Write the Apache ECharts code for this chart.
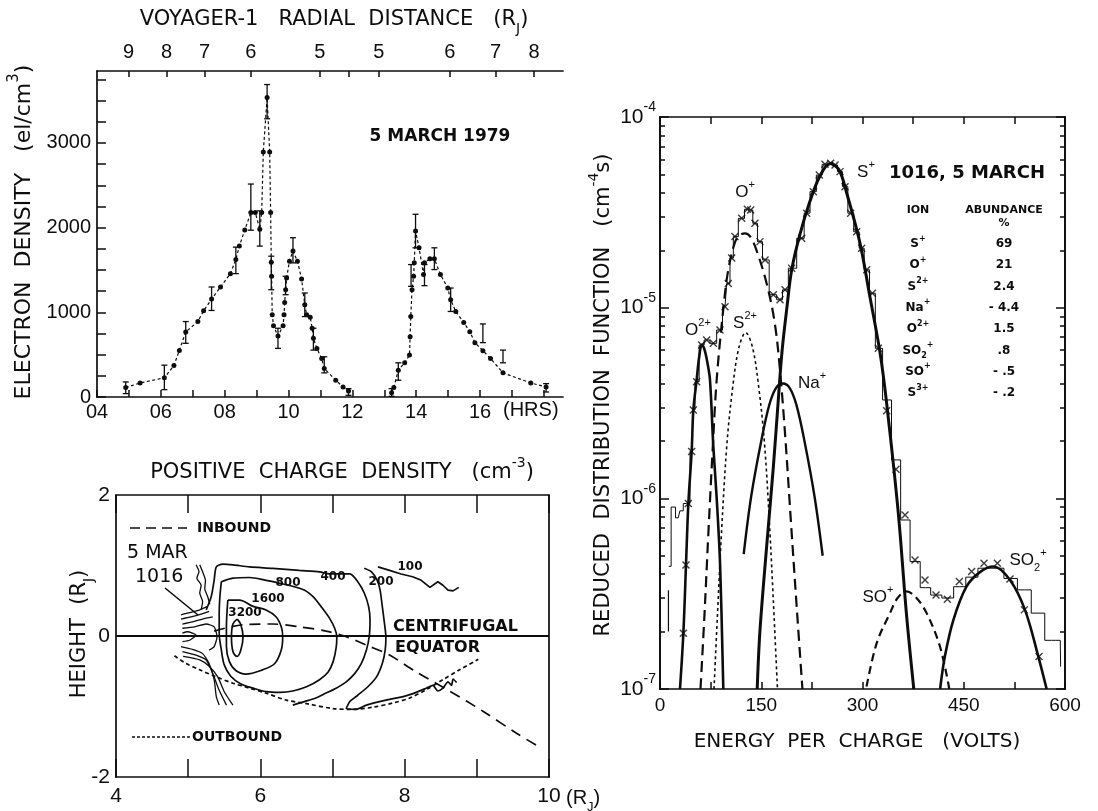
<!DOCTYPE html>
<html>
<head>
<meta charset="utf-8">
<script src="https://cdn.jsdelivr.net/npm/echarts@6/dist/echarts.min.js"></script>
<style>
  html, body { margin: 0; padding: 0; background: #fff; }
  #main { width: 1098px; height: 811px; }
</style>
</head>
<body>
<div id="main"></div>
<script>
// ---- top left: electron density along the Voyager-1 path ----
var densHoursIn = [4.90, 5.35, 6.11, 6.41, 6.58, 6.78, 7.16, 7.34, 7.59, 7.87, 8.18, 8.35, 8.46, 8.63, 8.82, 8.96, 9.10, 9.16, 9.21, 9.33, 9.41, 9.44, 9.46, 9.47, 9.49, 9.53, 9.67, 9.83, 9.86, 9.88, 9.91, 9.94, 10.03, 10.14, 10.28, 10.41, 10.51, 10.57, 10.68, 10.74, 10.78, 10.89, 11.04, 11.12, 11.48, 11.71, 11.88];
var densIn = [111, 166, 226, 372, 550, 768, 891, 1018, 1156, 1299, 1457, 1624, 1782, 1972, 2178, 2178, 1980, 2178, 2894, 3536, 2894, 2178, 1592, 1426, 970, 840, 721, 840, 970, 1117, 1267, 1406, 1604, 1723, 1604, 1394, 1089, 970, 943, 812, 693, 574, 455, 337, 198, 119, 71];
var densHoursOut = [13.23, 13.30, 13.44, 13.64, 13.79, 13.81, 13.83, 13.87, 13.92, 13.94, 13.98, 14.09, 14.23, 14.26, 14.43, 14.57, 14.76, 14.99, 15.08, 15.24, 15.49, 15.68, 15.84, 16.09, 16.33, 16.72, 17.59, 18.07];
var densOut = [51, 111, 317, 404, 495, 713, 950, 1267, 1426, 1584, 1960, 1762, 1446, 1584, 1632, 1632, 1446, 1287, 1149, 1010, 879, 772, 642, 547, 455, 285, 166, 119];
var errHours = [4.90, 6.11, 6.78, 7.59, 8.35, 8.82, 9.10, 9.33, 9.46, 9.67, 9.91, 10.14, 10.51, 10.78, 11.12, 11.88, 13.23, 13.44, 13.84, 13.98, 14.26, 14.57, 15.08, 16.09, 16.72, 18.07];
var errLow = [40, 87, 634, 1022, 1457, 1970, 1782, 3286, 1267, 574, 1208, 1584, 950, 554, 285, 20, 8, 198, 1307, 1762, 1315, 1505, 1010, 642, 404, 59];
var errHigh = [178, 376, 891, 1299, 1770, 2515, 2198, 3690, 1663, 812, 1426, 1881, 1228, 812, 475, 99, 99, 404, 1564, 2158, 1564, 1762, 1287, 863, 554, 158];
var radTickHours = [4.99, 6.18, 7.37, 8.82, 10.98, 11.89, 12.83, 15.05, 16.49, 17.69];
var radTickLabels = ['9', '8', '7', '6', '5', '', '5', '6', '7', '8'];

// ---- bottom left: positive charge density contours (R_J, R_J) ----
var c3200 = [[5.68,0.24],[5.73,0.16],[5.76,-0.01],[5.73,-0.20],[5.68,-0.29],[5.62,-0.22],[5.60,-0.01],[5.62,0.17],[5.68,0.24]];
var c1600 = [[5.55,0.51],[5.71,0.51],[5.90,0.42],[6.08,0.37],[6.22,0.27],[6.29,0.13],[6.31,-0.01],[6.29,-0.20],[6.20,-0.39],[6.03,-0.48],[5.80,-0.54],[5.66,-0.49],[5.57,-0.36],[5.53,-0.15],[5.53,0.13],[5.54,0.37],[5.55,0.51]];
var c800 = [[5.46,0.77],[5.62,0.82],[5.85,0.83],[6.08,0.79],[6.22,0.76],[6.59,0.66],[6.73,0.56],[6.84,0.42],[6.96,0.25],[7.03,0.11],[7.06,-0.01],[7.05,-0.17],[7.01,-0.36],[6.94,-0.51],[6.82,-0.62],[6.64,-0.72],[6.45,-0.78],[6.27,-0.80],[6.08,-0.79],[5.90,-0.74],[5.73,-0.68],[5.59,-0.57],[5.50,-0.41],[5.46,-0.20],[5.43,0.04],[5.43,0.32],[5.44,0.56],[5.46,0.77]];
var c400 = [[5.25,0.37],[5.32,0.56],[5.36,0.79],[5.39,0.98],[5.48,1.02],[5.62,1.01],[5.85,0.98],[6.17,0.96],[6.54,0.93],[6.82,0.91],[6.96,0.88],[7.24,0.88],[7.35,0.77],[7.44,0.61],[7.50,0.42],[7.52,0.23],[7.51,0],[7.47,-0.20],[7.40,-0.39],[7.31,-0.53],[7.19,-0.65],[7.05,-0.74],[6.91,-0.81],[6.77,-0.88],[6.61,-0.93],[6.45,-0.98]];
var c200 = [[7.44,0.96],[7.54,0.91],[7.62,0.79],[7.66,0.65],[7.69,0.42],[7.72,0.18],[7.74,-0.01],[7.73,-0.20],[7.69,-0.39],[7.61,-0.58],[7.49,-0.72],[7.35,-0.84],[7.24,-0.93],[7.19,-1.03],[7.33,-1.04],[7.47,-0.98],[7.74,-0.91],[7.98,-0.86],[8.16,-0.80],[8.30,-0.74],[8.39,-0.70],[8.46,-0.78],[8.53,-0.74],[8.60,-0.65],[8.65,-0.70],[8.67,-0.61],[8.72,-0.66]];
var c100 = [[7.63,0.98],[7.79,0.93],[7.95,0.88],[8.11,0.84],[8.23,0.79],[8.35,0.69],[8.46,0.77],[8.53,0.72],[8.60,0.65],[8.67,0.64],[8.75,0.69]];
var innerBits = [
  [[5.11,1.01],[5.15,0.91],[5.12,0.82],[5.18,0.72],[5.16,0.61],[5.20,0.49],[5.18,0.37]],
  [[5.16,1.01],[5.20,0.91],[5.24,0.79],[5.23,0.67],[5.27,0.56],[5.30,0.45]],
  [[4.90,0.30],[5.02,0.33],[5.16,0.37],[5.27,0.42]],
  [[4.90,0.24],[5.04,0.27],[5.18,0.31],[5.29,0.35]],
  [[4.92,0.17],[5.06,0.20],[5.20,0.24],[5.34,0.27]],
  [[4.92,0.11],[5.09,0.13],[5.25,0.17],[5.36,0.13],[5.40,-0.01],[5.36,-0.15],[5.29,-0.20]],
  [[4.92,0.04],[4.99,0.06],[5.11,0.01],[5.02,-0.06],[4.92,-0.08]],
  [[4.90,-0.15],[5.06,-0.19],[5.20,-0.25],[5.29,-0.39],[5.36,-0.62],[5.39,-0.86],[5.43,-0.98]],
  [[4.92,-0.22],[5.11,-0.27],[5.25,-0.34],[5.34,-0.53],[5.43,-0.77],[5.53,-0.98]],
  [[4.93,-0.29],[5.16,-0.34],[5.29,-0.43],[5.41,-0.58],[5.50,-0.79],[5.62,-0.98]]
];
var equatorLine = [[4, 0], [10, 0]];
var inboundPath = [[5.36,0.07],[5.76,0.16],[6.17,0.17],[6.54,0.13],[6.91,0.07],[7.19,-0.01],[7.47,-0.13],[7.79,-0.27],[8.16,-0.51],[8.62,-0.78],[9.09,-1.07],[9.55,-1.38],[9.86,-1.57]];
var outboundPath = [[4.81,-0.28],[4.97,-0.39],[5.16,-0.48],[5.39,-0.58],[5.62,-0.67],[5.85,-0.74],[6.08,-0.81],[6.36,-0.91],[6.64,-0.96],[7.01,-1.03],[7.28,-1.04],[7.56,-1.01],[7.84,-0.95],[8.07,-0.88],[8.30,-0.76],[8.53,-0.62],[8.76,-0.48],[9.02,-0.33]];

// ---- right: reduced distribution function vs energy per charge ----
var histEnergy = [13, 14, 19, 27, 32, 37, 42, 46.9, 49.4, 54.3, 61.7, 69.1, 79, 88.9, 96.3, 101.2, 106.2, 111.1, 121, 129.4, 134.3, 140.7, 148.1, 155.6, 167.9, 177.8, 185.2, 195.1, 209.9, 217.3, 227.2, 236, 244.4, 252.8, 259.3, 266.7, 274.1, 282.5, 291.4, 298.8, 306.2, 314.6, 323.5, 336, 350, 363, 378, 393, 409, 426, 444, 462, 480, 500, 519, 540, 560, 580, 593, 594];
var histValue = [4.4e-7, 4.4e-7, 9.0e-7, 7.9e-7, 8.6e-7, 9.4e-7, 9.4e-7, 1.76e-6, 2.91e-6, 4.09e-6, 6.37e-6, 6.77e-6, 6.5e-6, 7.64e-6, 1.01e-5, 1.34e-5, 1.82e-5, 2.36e-5, 2.94e-5, 3.28e-5, 3.25e-5, 2.77e-5, 2.22e-5, 1.78e-5, 1.17e-5, 1.10e-5, 1.24e-5, 1.61e-5, 2.31e-5, 3.13e-5, 4.06e-5, 4.96e-5, 5.65e-5, 5.72e-5, 5.6e-5, 5.17e-5, 4.31e-5, 3.13e-5, 2.5e-5, 2.05e-5, 1.58e-5, 1.19e-5, 6.12e-6, 3.28e-6, 1.59e-6, 7.7e-7, 4.66e-7, 3.4e-7, 3.11e-7, 3.0e-7, 3.44e-7, 3.86e-7, 4.3e-7, 4.3e-7, 3.8e-7, 3.31e-7, 2.5e-7, 1.8e-7, 1.8e-7, 1.31e-7];
var lowBar = [[12.5, 2.0e-7], [12.5, 3.3e-7]];
var markEnergy = [34.6, 38.5, 42.0, 46.9, 49.4, 54.3, 61.7, 69.1, 79.0, 88.9, 96.3, 101.2, 106.2, 111.1, 121.0, 129.4, 134.3, 140.7, 148.1, 155.6, 167.9, 177.8, 185.2, 195.1, 209.9, 217.3, 227.2, 236.0, 244.4, 252.8, 259.3, 266.7, 274.1, 282.5, 291.4, 298.8, 306.2, 314.6, 323.5, 335.8, 349.6, 363.0, 377.8, 392.6, 408.9, 425.7, 443.5, 461.7, 480.0, 499.8, 518.5, 539.8, 561.5];
var markValue = [1.96e-7, 4.47e-7, 9.4e-7, 1.76e-6, 2.91e-6, 4.09e-6, 6.37e-6, 6.77e-6, 6.5e-6, 7.64e-6, 1.01e-5, 1.34e-5, 1.82e-5, 2.36e-5, 2.94e-5, 3.28e-5, 3.25e-5, 2.77e-5, 2.22e-5, 1.78e-5, 1.17e-5, 1.10e-5, 1.24e-5, 1.61e-5, 2.31e-5, 3.13e-5, 4.06e-5, 4.96e-5, 5.65e-5, 5.72e-5, 5.6e-5, 5.17e-5, 4.31e-5, 3.13e-5, 2.5e-5, 2.05e-5, 1.58e-5, 1.19e-5, 6.12e-6, 2.88e-6, 1.42e-6, 8.18e-7, 4.75e-7, 3.73e-7, 3.11e-7, 2.96e-7, 3.66e-7, 4.13e-7, 4.57e-7, 4.57e-7, 3.77e-7, 2.6e-7, 1.48e-7];
var o2Energy = [29.6, 34.6, 38.5, 42, 46.9, 49.4, 54.3, 58, 62, 66, 70, 74, 79, 84, 89, 93.8];
var o2Value = [1e-7, 1.96e-7, 4.47e-7, 9.4e-7, 1.76e-6, 2.9e-6, 4.18e-6, 5.5e-6, 6.4e-6, 6.0e-6, 5.2e-6, 4.2e-6, 1.87e-6, 1.0e-6, 4.5e-7, 1e-7];
var oEnergy = [60, 66, 71.6, 78, 84, 94, 101, 111, 118, 126, 134, 143, 158, 170, 178, 186, 194, 202.5, 211];
var oValue = [1e-7, 2.5e-7, 6.5e-7, 1.8e-6, 4.2e-6, 1e-5, 1.57e-5, 2.2e-5, 2.4e-5, 2.45e-5, 2.35e-5, 2.0e-5, 1.34e-5, 8.3e-6, 4.6e-6, 2.0e-6, 7.5e-7, 2.7e-7, 1e-7];
var s2Energy = [80, 85, 91, 99, 108, 117, 127, 137, 146, 155, 163, 169, 174];
var s2Value = [1e-7, 2.4e-7, 6.5e-7, 1.9e-6, 3.9e-6, 6.2e-6, 7.4e-6, 6.2e-6, 3.9e-6, 1.9e-6, 6.5e-7, 2.4e-7, 1e-7];
var naEnergy = [124, 135, 150, 162, 172, 182, 192, 202, 214, 229, 241];
var naValue = [5.1e-7, 1.02e-6, 2.0e-6, 3.1e-6, 3.8e-6, 4.0e-6, 3.8e-6, 3.1e-6, 2.0e-6, 1.02e-6, 5.0e-7];
var sEnergy = [144, 148, 158, 168, 175, 181, 188, 195, 207, 222, 237, 252, 265, 276.5, 296, 311, 326, 336, 353, 365, 376];
var sValue = [1e-7, 2.0e-7, 5.6e-7, 1.47e-6, 3.2e-6, 6.0e-6, 1.0e-5, 1.57e-5, 2.4e-5, 3.6e-5, 4.9e-5, 5.7e-5, 5.3e-5, 4.0e-5, 2.2e-5, 1.14e-5, 5.8e-6, 3.1e-6, 8.4e-7, 2.5e-7, 1e-7];
var soEnergy = [306, 321, 340.7, 352, 365.4, 380, 395, 414.8, 428.6];
var soValue = [1.03e-7, 1.74e-7, 2.5e-7, 3.0e-7, 3.25e-7, 3.0e-7, 2.5e-7, 1.67e-7, 1e-7];
var so2Energy = [415, 422, 434.6, 454, 474, 494, 518.5, 540.7, 560.5, 572.8];
var so2Value = [1e-7, 1.48e-7, 2.3e-7, 3.44e-7, 4.1e-7, 4.39e-7, 3.73e-7, 2.6e-7, 1.48e-7, 1e-7];
var minorLogTicks = [2e-7, 3e-7, 4e-7, 5e-7, 6e-7, 7e-7, 8e-7, 9e-7, 2e-6, 3e-6, 4e-6, 5e-6, 6e-6, 7e-6, 8e-6, 9e-6, 2e-5, 3e-5, 4e-5, 5e-5, 6e-5, 7e-5, 8e-5, 9e-5];
var ionNames = ['{n|S}{p|+}', '{n|O}{p|+}', '{n|S}{p|2+}', '{n|Na}{p|+}', '{n|O}{p|2+}', '{n|SO}{b|2}{p|+}', '{n|SO}{p|+}', '{n|S}{p|3+}'];
var ionAbundance = ['69', '21', '2.4', '- 4.4', '1.5', '.8', '- .5', '- .2'];

var INK = '#0d0d0d';
var FONT = 'DejaVu Sans';
var NUM = 'Liberation Sans';

function zip(a, b) {
    var out = [];
    for (var i = 0; i < a.length; i++) out.push([a[i], b[i]]);
    return out;
}

function richSet(size, family, weight) {
    var small = Math.round(size * 0.66);
    return {
        n: {fontSize: size, fontFamily: family, fontWeight: weight, fill: INK, color: INK, lineHeight: Math.round(size * 1.55)},
        p: {fontSize: small, fontFamily: family, fontWeight: weight, fill: INK, color: INK, verticalAlign: 'top', lineHeight: small},
        b: {fontSize: small, fontFamily: family, fontWeight: weight, fill: INK, color: INK, verticalAlign: 'bottom', lineHeight: small}
    };
}

function txt(x, y, text, size, o) {
    o = o || {};
    var el = {
        type: 'text', x: x, y: y, silent: true, rotation: o.rotation || 0,
        style: {
            text: text, fontFamily: o.family || FONT, fontSize: size, fontWeight: o.weight || 'normal',
            fill: INK, align: o.align || 'center', verticalAlign: 'middle'
        }
    };
    if (o.rich) el.style.rich = richSet(size, o.family || FONT, o.weight || 'normal');
    if (o.bg) { el.style.backgroundColor = '#fff'; el.style.padding = [0, 1]; }
    return el;
}

function hline(x1, y1, x2, y2, dash) {
    return {type: 'line', silent: true, shape: {x1: x1, y1: y1, x2: x2, y2: y2},
        style: {stroke: INK, lineWidth: 1.6, lineDash: dash || null}};
}

function axisBase(extra) {
    var a = {
        type: 'value',
        axisLine: {show: true, onZero: false, lineStyle: {color: INK, width: 1.7}},
        axisTick: {show: true, inside: true, length: 7, lineStyle: {color: INK, width: 1.5}},
        axisLabel: {show: false, color: INK, fontFamily: NUM, fontSize: 20},
        splitLine: {show: false},
        minorTick: {show: false}
    };
    for (var k in extra) {
        if (typeof extra[k] === 'object' && a[k] && !Array.isArray(extra[k])) {
            for (var j in extra[k]) a[k][j] = extra[k][j];
        } else {
            a[k] = extra[k];
        }
    }
    return a;
}

function contour(data, smooth, dash, width) {
    return {
        type: 'line', xAxisIndex: 2, yAxisIndex: 1, data: data, showSymbol: false, smooth: smooth,
        lineStyle: {color: INK, width: width || 1.7, type: dash || 'solid'}, silent: true
    };
}

function curve(e, v, dash, width) {
    return {
        type: 'line', xAxisIndex: 4, yAxisIndex: 3, data: zip(e, v), showSymbol: false, smooth: 0.35,
        lineStyle: {color: INK, width: width, type: dash}, silent: true
    };
}

var chart = echarts.init(document.getElementById('main'), null, {renderer: 'canvas'});

var series = [
    {type: 'line', xAxisIndex: 0, yAxisIndex: 0, data: zip(densHoursIn, densIn), symbol: 'circle', symbolSize: 5,
        itemStyle: {color: INK}, lineStyle: {color: INK, width: 1.2, type: [3, 2.5]}},
    {type: 'line', xAxisIndex: 0, yAxisIndex: 0, data: zip(densHoursOut, densOut), symbol: 'circle', symbolSize: 5,
        itemStyle: {color: INK}, lineStyle: {color: INK, width: 1.2, type: [3, 2.5]}},
    {
        type: 'custom', xAxisIndex: 0, yAxisIndex: 0,
        data: errHours.map(function (h, i) { return [h, errLow[i], errHigh[i]]; }),
        renderItem: function (params, api) {
            var lo = api.coord([api.value(0), api.value(1)]);
            var hi = api.coord([api.value(0), api.value(2)]);
            var st = {stroke: INK, lineWidth: 1.3};
            return {type: 'group', children: [
                {type: 'line', shape: {x1: lo[0], y1: lo[1], x2: hi[0], y2: hi[1]}, style: st},
                {type: 'line', shape: {x1: lo[0] - 3, y1: lo[1], x2: lo[0] + 3, y2: lo[1]}, style: st},
                {type: 'line', shape: {x1: hi[0] - 3, y1: hi[1], x2: hi[0] + 3, y2: hi[1]}, style: st}
            ]};
        }
    },
    contour(c3200, 0.4), contour(c1600, 0.35), contour(c800, 0.3), contour(c400, 0.25),
    contour(c200, 0.2), contour(c100, 0),
    contour(equatorLine, 0, 'solid', 1.9),
    contour(inboundPath, 0.3, [11, 7], 1.7),
    contour(outboundPath, 0.3, [4, 3], 1.7),
    {type: 'line', xAxisIndex: 4, yAxisIndex: 3, data: zip(histEnergy, histValue), step: 'middle', showSymbol: false,
        lineStyle: {color: INK, width: 1}, silent: true},
    {type: 'line', xAxisIndex: 4, yAxisIndex: 3, data: lowBar, showSymbol: false, lineStyle: {color: INK, width: 1.2}, silent: true},
    {type: 'scatter', xAxisIndex: 4, yAxisIndex: 3, data: zip(markEnergy, markValue),
        symbol: 'path://M0,0L10,10M10,0L0,10', symbolSize: 7,
        itemStyle: {color: 'rgba(0,0,0,0)', borderColor: INK, borderWidth: 1.4}, silent: true},
    curve(o2Energy, o2Value, 'solid', 2.6),
    curve(oEnergy, oValue, [11, 6], 2.2),
    curve(s2Energy, s2Value, [3, 3], 1.6),
    curve(naEnergy, naValue, 'solid', 2.4),
    curve(sEnergy, sValue, 'solid', 3),
    curve(soEnergy, soValue, [8, 5], 2.2),
    curve(so2Energy, so2Value, 'solid', 2.6)
];
innerBits.forEach(function (d) { series.push(contour(d, 0.2, 'solid', 1.3)); });

var graphics = [
    // top left
    txt(334, 20, '{n|VOYAGER-1   RADIAL  DISTANCE   (R}{b|J}{n|)}', 21, {rich: true}),
    txt(24, 232, '{n|ELECTRON  DENSITY   (el/cm}{p|3}{n|)}', 22, {rich: true, rotation: Math.PI / 2}),
    txt(440, 137, '5 MARCH 1979', 17, {weight: 'bold'}),
    txt(503, 410, '(HRS)', 20, {family: NUM, align: 'left'}),
    // bottom left
    txt(342, 473, '{n|POSITIVE  CHARGE  DENSITY   (cm}{p|-3}{n|)}', 21, {rich: true}),
    txt(80, 634, '{n|HEIGHT  (R}{b|J}{n|)}', 21, {rich: true, rotation: Math.PI / 2}),
    txt(566, 798, '{n|(R}{b|J}{n|)}', 20, {rich: true, family: NUM, align: 'left'}),
    hline(130, 528, 187, 528, [10, 6]),
    txt(197, 528, 'INBOUND', 14, {weight: 'bold', align: 'left'}),
    hline(132, 737, 190, 737, [3, 2]),
    txt(192, 737, 'OUTBOUND', 14, {weight: 'bold', align: 'left'}),
    txt(127, 553, '5 MAR', 19, {align: 'left'}),
    txt(135, 577, '1016', 19, {align: 'left'}),
    hline(165, 588, 198, 615),
    txt(393, 627, 'CENTRIFUGAL', 16, {weight: 'bold', align: 'left'}),
    txt(395, 648, 'EQUATOR', 16, {weight: 'bold', align: 'left'}),
    txt(410, 567, '100', 12, {weight: 'bold', bg: true}),
    txt(381, 582, '200', 12, {weight: 'bold', bg: true}),
    txt(333, 577, '400', 12, {weight: 'bold', bg: true}),
    txt(288, 583, '800', 12, {weight: 'bold', bg: true}),
    txt(268, 599, '1600', 12, {weight: 'bold', bg: true}),
    txt(245, 613, '3200', 12, {weight: 'bold', bg: true}),
    // right
    txt(857, 742, 'ENERGY  PER  CHARGE   (VOLTS)', 20),
    txt(604, 395, '{n|REDUCED  DISTRIBUTION  FUNCTION   (cm}{p|-4}{n|s)}', 21, {rich: true, rotation: Math.PI / 2}),
    txt(967, 173, '1016, 5 MARCH', 18, {weight: 'bold'}),
    txt(745, 192, '{n|O}{p|+}', 17, {rich: true, family: NUM}),
    txt(866, 172, '{n|S}{p|+}', 17, {rich: true, family: NUM}),
    txt(698, 330, '{n|O}{p|2+}', 17, {rich: true, family: NUM}),
    txt(745, 323, '{n|S}{p|2+}', 17, {rich: true, family: NUM}),
    txt(812, 383, '{n|Na}{p|+}', 17, {rich: true, family: NUM}),
    txt(878, 597, '{n|SO}{p|+}', 17, {rich: true, family: NUM}),
    txt(1028, 560, '{n|SO}{b|2}{p|+}', 17, {rich: true, family: NUM}),
    txt(918, 210, 'ION', 11, {weight: 'bold'}),
    txt(1004, 210, 'ABUNDANCE', 11, {weight: 'bold'}),
    txt(1004, 223, '%', 11, {weight: 'bold'})
];
ionNames.forEach(function (nm, i) {
    var y = 244 + i * 21.3;
    graphics.push(txt(918, y, nm, 12, {rich: true, weight: 'bold'}));
    graphics.push(txt(1004, y, ionAbundance[i], 12, {weight: 'bold'}));
});

var option = {
    backgroundColor: '#fff',
    animation: false,
    grid: [
        {left: 97, top: 71, width: 466, height: 326, outerBoundsMode: 'none'},
        {left: 116, top: 495, width: 433, height: 282, outerBoundsMode: 'none'},
        {left: 660, top: 117, width: 405, height: 572, outerBoundsMode: 'none'}
    ],
    xAxis: [
        axisBase({gridIndex: 0, position: 'bottom', min: 4, max: 18.6, interval: 1,
            axisTick: {length: 7},
            axisLabel: {show: true, margin: 5, showMaxLabel: false,
                formatter: function (v) { return (v % 2 === 0 && v <= 16) ? (v < 10 ? '0' + v : '' + v) : ''; }}}),
        axisBase({gridIndex: 0, position: 'top', min: 4, max: 18.6,
            axisTick: {length: 6, customValues: radTickHours},
            axisLabel: {show: true, margin: 9, customValues: radTickHours,
                formatter: function (v) {
                    for (var i = 0; i < radTickHours.length; i++) {
                        if (Math.abs(radTickHours[i] - v) < 1e-6) return radTickLabels[i];
                    }
                    return '';
                }}}),
        axisBase({gridIndex: 1, position: 'bottom', min: 4, max: 10, interval: 1,
            axisTick: {length: 18},
            axisLabel: {show: true, margin: 9, fontSize: 21,
                formatter: function (v) { return v % 2 === 0 ? '' + v : ''; }}}),
        axisBase({gridIndex: 1, position: 'top', min: 4, max: 10, interval: 1, axisTick: {length: 18}}),
        axisBase({gridIndex: 2, position: 'bottom', min: 0, max: 600, interval: 75,
            axisLabel: {show: true, margin: 7, fontSize: 19,
                formatter: function (v) { return v % 150 === 0 ? '' + v : ''; }}}),
        axisBase({gridIndex: 2, position: 'top', min: 0, max: 600, interval: 75})
    ],
    yAxis: [
        axisBase({gridIndex: 0, position: 'left', min: 0, max: 3850, interval: 250,
            axisTick: {length: 9},
            axisLabel: {show: true, margin: 6, showMaxLabel: false,
                formatter: function (v) { return v % 1000 === 0 ? '' + v : ''; }}}),
        axisBase({gridIndex: 1, position: 'left', min: -2, max: 2, interval: 2,
            axisTick: {show: false},
            axisLabel: {show: true, margin: 6, fontSize: 21}}),
        axisBase({gridIndex: 1, position: 'right', min: -2, max: 2, interval: 2, axisTick: {show: false}}),
        axisBase({gridIndex: 2, type: 'log', logBase: 10, position: 'left', min: 1e-7, max: 1e-4,
            axisTick: {length: 9},
            axisLabel: {show: true, margin: 4,
                formatter: function (v) { return '{n|10}{p|' + Math.round(Math.log10(v)) + '}'; },
                rich: richSet(21, NUM, 'normal')}}),
        axisBase({gridIndex: 2, type: 'log', logBase: 10, position: 'left', min: 1e-7, max: 1e-4,
            axisTick: {length: 5, customValues: minorLogTicks}}),
        axisBase({gridIndex: 2, type: 'log', logBase: 10, position: 'right', min: 1e-7, max: 1e-4,
            axisTick: {length: 9}}),
        axisBase({gridIndex: 2, type: 'log', logBase: 10, position: 'right', min: 1e-7, max: 1e-4,
            axisTick: {length: 5, customValues: minorLogTicks}})
    ],
    series: series,
    graphic: graphics
};

chart.setOption(option);
</script>
</body>
</html>
